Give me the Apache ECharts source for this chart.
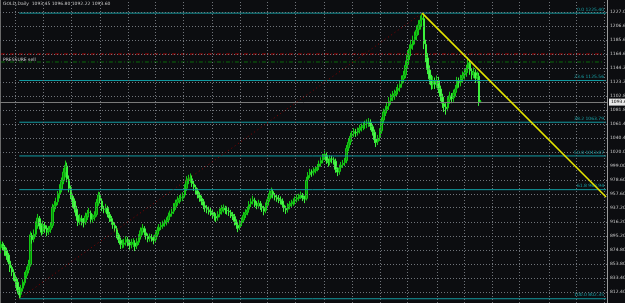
<!DOCTYPE html>
<html><head><meta charset="utf-8">
<script src="https://cdn.jsdelivr.net/npm/echarts@6/dist/echarts.min.js"></script>
<style>html,body{margin:0;padding:0;background:#0c0d10;}#c{width:625px;height:303px;}</style>
</head><body><div id="c"></div>
<script>
const titleText = 'GOLD,Daily  1093.45 1096.80 1092.22 1093.60';
const opens = [878,884,879,874,867,858,849,841,834,827,
814,809,818,826,837,845,853,896,891,898,
911,921,911,902,911,907,902,905,911,937,
940,946,957,965,977,989,999,979,967,954,
947,935,926,917,921,917,916,924,930,929,
921,923,927,944,955,947,935,934,936,927,
921,916,911,906,897,889,884,883,886,889,
886,883,884,885,881,886,894,902,906,900,
895,892,893,892,890,898,903,909,910,914,
916,919,924,929,932,938,945,948,952,951,
956,966,979,981,980,972,967,962,956,951,
946,940,936,934,932,930,926,924,923,928,
932,935,936,933,932,930,927,924,916,911,
908,915,919,927,931,935,943,947,948,942,
940,943,939,936,933,941,950,957,961,955,
952,951,949,947,941,936,935,940,943,945,
947,950,951,955,955,951,951,979,986,989,
990,992,995,998,1003,1008,1013,1015,1006,1005,
1009,1008,1006,993,991,997,1001,1004,1007,1026,
1035,1044,1047,1049,1049,1052,1056,1058,1060,1062,
1063,1063,1057,1049,1039,1035,1041,1051,1067,1078,
1083,1088,1096,1101,1103,1107,1111,1115,1121,1128,
1134,1149,1162,1173,1178,1186,1192,1201,1209,1216,
1217,1179,1159,1141,1127,1120,1124,1121,1125,1113,
1101,1091,1086,1085,1097,1102,1100,1108,1114,1124,
1123,1129,1134,1138,1143,1151,1139,1135,1137,1130,
1132,1093.45];
const closes = [883,880,875,866,857,848,842,835,828,815,
808,818,827,837,844,852,897,890,898,912,
922,910,901,912,906,901,904,910,938,941,
945,958,966,976,990,1000,980,966,955,946,
936,925,916,922,918,915,925,929,930,920,
922,926,945,956,948,936,935,937,928,922,
917,912,907,898,890,883,884,885,890,887,
882,885,886,880,887,893,903,907,901,896,
891,894,893,889,897,904,908,911,913,915,
918,925,928,931,939,944,949,951,952,955,
967,978,980,981,973,968,963,957,952,947,
941,937,935,933,931,927,925,922,927,931,
936,937,934,933,931,928,925,917,912,907,
914,918,926,930,934,942,946,949,943,941,
944,940,937,932,940,949,958,962,956,953,
952,950,948,942,937,934,939,942,944,946,
949,952,954,956,952,950,978,985,990,989,
991,994,997,1002,1007,1012,1016,1007,1004,1010,
1009,1007,994,990,996,1000,1003,1006,1025,1034,
1043,1046,1050,1048,1051,1055,1057,1059,1061,1062,
1064,1058,1050,1038,1034,1040,1050,1066,1079,1082,
1087,1095,1100,1104,1106,1110,1114,1120,1127,1133,
1148,1163,1172,1179,1185,1191,1200,1208,1215,1218,
1180,1160,1142,1128,1119,1125,1120,1126,1114,1102,
1092,1087,1084,1096,1103,1099,1107,1113,1125,1122,
1128,1133,1137,1142,1152,1140,1134,1138,1129,1133,
1094,1093.6];
const lows = [870,874,866,860,853,842,836,829,820,810,
802.35,804,813,822,832,840,850,884,886,894,
906,905,896,898,900,895,897,900,907,931,
935,941,951,960,972,982,975,960,950,938,
930,918,910,912,911,908,912,919,923,914,
915,918,924,940,944,932,929,930,923,916,
912,906,901,892,885,876,877,878,881,880,
875,877,879,873,876,882,890,897,896,890,
886,887,887,883,886,894,899,904,906,909,
911,914,920,924,928,934,940,943,946,947,
952,962,972,974,968,962,957,951,946,941,
935,931,929,927,925,921,918,916,918,923,
927,930,928,927,925,922,919,911,906,901,
904,910,915,922,926,930,938,942,938,935,
936,934,931,926,929,937,946,952,951,948,
946,944,942,937,931,928,930,935,938,940,
942,945,947,950,947,944,948,974,981,983,
985,988,991,993,998,1003,1008,1002,998,1000,
1003,1001,989,984,986,992,996,999,1003,1021,
1030,1039,1042,1042,1044,1047,1050,1052,1054,1055,
1057,1052,1044,1033,1027,1030,1036,1047,1062,1073,
1077,1082,1090,1095,1097,1101,1105,1109,1115,1122,
1129,1144,1156,1166,1171,1179,1185,1193,1201,1205,
1172,1153,1135,1120,1112,1113,1113,1115,1107,1095,
1085,1079,1075,1080,1091,1092,1094,1102,1109,1115,
1117,1123,1127,1131,1137,1134,1127,1129,1122,1124,
1088,1092.22];
const highs = [888,887,882,878,870,861,852,846,838,832,
820,823,831,842,850,860,902,900,905,917,
928,925,914,918,916,911,910,916,943,947,
952,962,972,982,996,1007,1004,985,970,958,
951,940,930,928,926,922,930,934,937,933,
928,932,950,961,960,951,940,943,940,931,
925,920,915,910,900,893,890,891,895,894,
890,891,892,889,892,898,908,913,910,904,
899,899,898,896,902,909,913,916,918,920,
923,930,933,936,944,949,954,956,958,960,
972,984,986,988,985,977,971,966,960,955,
950,944,941,939,937,935,931,929,932,936,
941,942,940,939,937,934,931,928,920,915,
919,923,931,935,939,947,951,955,952,947,
949,947,943,940,945,954,963,967,965,959,
957,956,954,951,945,940,944,947,949,951,
954,957,958,961,959,955,983,990,995,994,
997,999,1002,1007,1012,1017,1022,1019,1010,1015,
1014,1012,1010,997,1001,1005,1008,1011,1030,1039,
1048,1051,1055,1054,1056,1060,1062,1064,1066,1068,
1070,1068,1061,1053,1043,1045,1055,1071,1084,1088,
1093,1101,1106,1110,1112,1116,1120,1126,1133,1140,
1155,1170,1179,1186,1192,1198,1207,1215,1222,1225.4,
1222,1186,1166,1148,1134,1132,1130,1133,1131,1118,
1106,1096,1092,1101,1109,1107,1112,1119,1131,1130,
1134,1139,1143,1149,1160,1156,1144,1145,1142,1139,
1137,1096.8];
const tickValues = [1227.00,1206.60,1185.60,1164.60,1144.20,1123.20,1102.80,1081.80,1061.40,1040.40,1020.00,999.00,978.60,957.60,937.20,916.20,895.20,874.80,853.80,833.40,812.40];
const tickLabels = ['1227.00','1206.60','1185.60','1164.60','1144.20','1123.20','1102.80','1081.80','1061.40','1040.40','1020.00','999.00','978.60','957.60','937.20','916.20','895.20','874.80','853.80','833.40','812.40'];
const fibLevels = [1225.40,1125.56,1063.79,1013.87,963.94,802.35];
const fibLabels = ['0.0 1225.40','23.6 1125.56','38.2 1063.79','50.0 1013.87','61.8 963.94','100.0 802.35'];
const fibFromBar = 10, lastSlot = 329, totalSlots = 330;
const swingLow = [10, 802.35], swingHigh = [229, 1225.40];
const trendEnd = [329, 953];
const redLevel = 1164.8, greenLevel = 1153.0, greenLabel = 'PRESSURE sell';
const lastPrice = 1093.60, lastPriceLabel = '1093.60';
const gridCols = [8,23,38,54,69,84,99,115,130,145,160,176,191,206,221,237,252,267,282,298,313,328];

const categories = [];
for (let i = 0; i < totalSlots; i++) categories.push(String(i));
const candles = opens.map((o, i) => [o, closes[i], lows[i], highs[i]]);

const FONT = 'DejaVu Sans';
const GRIDC = '#70747a';
const FIBC = '#129ca2';
const gridStyle = { color: GRIDC, type: [1, 2], width: 1 };

function plainLine(points, style, z, extra) {
  return Object.assign({ type: 'line', data: points, z: z, silent: true, symbol: 'none', showSymbol: false,
    lineStyle: style, animation: false, emphasis: { disabled: true } }, extra || {});
}

const series = [
  { type: 'line', data: [], z: 1, silent: true,
    markLine: { silent: true, symbol: 'none', animation: false,
      lineStyle: gridStyle,
      label: { show: true, position: 'end', distance: 3, color: '#c8c8c8', fontSize: 4.5, fontFamily: FONT },
      data: tickValues.map((v, i) => ({ yAxis: v, lineStyle: gridStyle, label: { formatter: tickLabels[i] } }))
        .concat(gridCols.map(c => ({ xAxis: c, lineStyle: gridStyle, label: { show: false } }))) } },
  { type: 'line', data: [], z: 2, silent: true,
    markLine: { silent: true, symbol: 'none', animation: false,
      label: { show: true, position: 'end', distance: 2, color: '#000', backgroundColor: '#e8e8e8', padding: [1, 2], fontSize: 4.5, fontFamily: FONT, formatter: lastPriceLabel },
      data: [{ yAxis: lastPrice, lineStyle: { color: '#7a7a7a', type: 'solid', width: 1 } }] } },
  plainLine([[0, redLevel], [lastSlot - 2, redLevel]], { color: '#b00000', type: [4, 2, 1, 2], width: 1 }, 2),
  plainLine([[0, greenLevel], [lastSlot - 2, greenLevel]], { color: '#0b6b0b', type: [4, 2, 1, 2], width: 1 }, 2),
  { type: 'candlestick', data: candles, z: 3, barWidth: 2,
    itemStyle: { color: '#0c8c0c', color0: '#55f055', borderColor: '#14c814', borderColor0: '#3cf03c', borderWidth: 1 } }
];
fibLevels.forEach((v, i) => {
  series.push(plainLine([[fibFromBar, v], [lastSlot, v]], { color: FIBC, type: 'solid', width: 1 }, 4, {
    endLabel: { show: true, formatter: fibLabels[i], color: '#17a3a8', fontSize: 4.5, fontFamily: FONT,
      distance: 0, align: 'right', verticalAlign: 'bottom', offset: [-2, -1] }
  }));
});
series.push(plainLine([swingLow, swingHigh], { color: '#8b0000', type: [1, 3], width: 1 }, 5));
series.push(plainLine([swingHigh, trendEnd], { color: '#e6e600', type: 'solid', width: 1.6 }, 5));

const chart = echarts.init(document.getElementById('c'));
chart.setOption({
  animation: false,
  backgroundColor: '#0c0d10',
  title: [
    { text: titleText, left: 3, top: 1, padding: 0, textStyle: { color: '#c8c8c8', fontSize: 4.5, fontWeight: 'normal', fontFamily: FONT } },
    { text: greenLabel, left: 3, top: 57, padding: 0, textStyle: { color: '#d0d0d0', fontSize: 4.5, fontWeight: 'normal', fontFamily: FONT } }
  ],
  grid: { left: 0, right: 18, top: 0, bottom: 0 },
  xAxis: {
    type: 'category', data: categories, boundaryGap: true,
    axisLine: { show: false }, axisTick: { show: false }, axisLabel: { show: false }, splitLine: { show: false }
  },
  yAxis: [
    { type: 'value', position: 'right', min: 796.1, max: 1244.8, scale: true,
      axisLine: { show: true, lineStyle: { color: '#9a9a9a' } }, axisTick: { show: false }, axisLabel: { show: false }, splitLine: { show: false } },
    { type: 'value', position: 'left', min: 796.1, max: 1244.8, scale: true,
      axisLine: { show: true, lineStyle: { color: '#6a6a6a' } }, axisTick: { show: false }, axisLabel: { show: false }, splitLine: { show: false } }
  ],
  series: series
});
</script></body></html>
